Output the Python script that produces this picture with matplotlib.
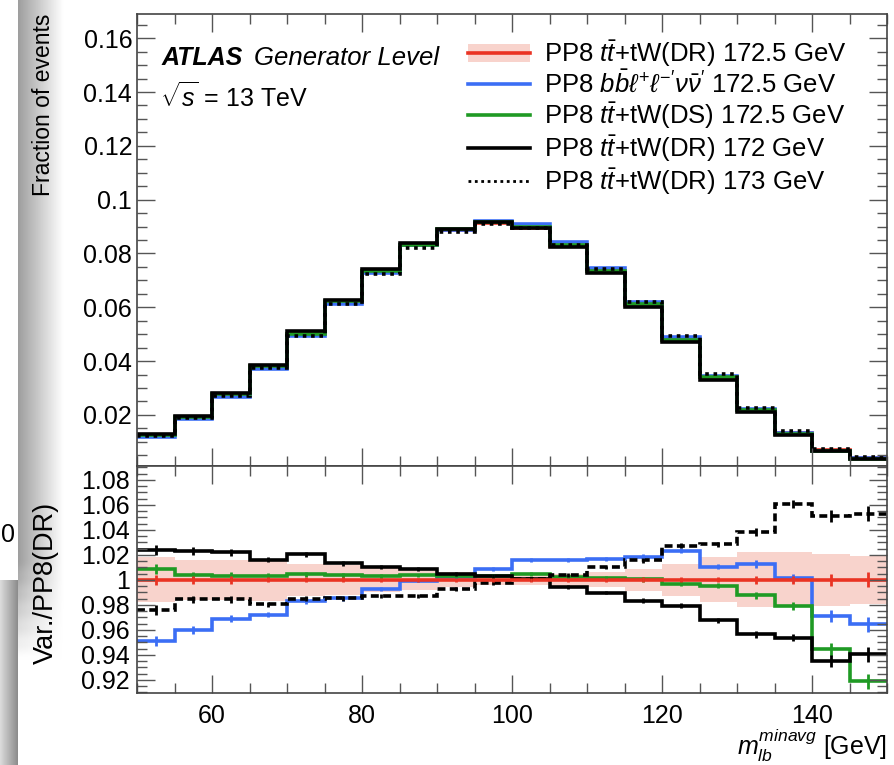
import numpy as np
import matplotlib
matplotlib.use("Agg")
import matplotlib.pyplot as plt
from matplotlib.lines import Line2D
from matplotlib.patches import Patch
from matplotlib.ticker import MultipleLocator

plt.rcParams['font.family'] = ['Liberation Sans', 'DejaVu Sans']
plt.rcParams['mathtext.fontset'] = 'custom'
plt.rcParams['mathtext.rm'] = 'Liberation Sans'
plt.rcParams['mathtext.it'] = 'Liberation Sans:italic'
plt.rcParams['mathtext.bf'] = 'Liberation Sans:bold'

# m_lb^minavg binning, 5 GeV bins
edges = np.arange(50, 155, 5)

# nominal PP8 ttbar+tW(DR) 172.5 GeV, fraction of events
nominal = [0.0125, 0.0193, 0.0275, 0.0380, 0.0500, 0.0620, 0.0734, 0.0830, 0.0887, 0.0913,
           0.0894, 0.0828, 0.0734, 0.0610, 0.0480, 0.0342, 0.0219, 0.0133, 0.0069, 0.0040]

# ratios to nominal
ratio_bb = [0.951, 0.960, 0.969, 0.972, 0.983, 0.9855, 0.993, 0.9995, 1.002, 1.0085,
            1.0157, 1.0157, 1.0165, 1.0184, 1.0232, 1.0104, 1.0125, 1.0013, 0.9712, 0.9645]
ratio_ds = [1.0085, 1.0035, 1.0030, 1.0032, 1.0045, 1.0037, 1.0032, 1.0035, 1.0032, 1.0032,
            1.0045, 1.0019, 1.0013, 1.0005, 0.9970, 0.9952, 0.9877, 0.9792, 0.9445, 0.9190]
ratio_172 = [1.0238, 1.0232, 1.0219, 1.0160, 1.0205, 1.0133, 1.0105, 1.0085, 1.0045, 1.0032,
             1.0005, 0.9944, 0.9899, 0.9832, 0.9792, 0.9677, 0.9565, 0.9539, 0.9352, 0.9405]
ratio_173 = [0.9760, 0.9845, 0.9845, 0.9805, 0.9850, 0.9855, 0.9870, 0.9870, 0.9925, 0.9975,
             1.0010, 1.0040, 1.0099, 1.0157, 1.0272, 1.0285, 1.0384, 1.0605, 1.0512, 1.0528]

# nominal uncertainty band (relative half width) and per-bin stat errors
band = [0.018, 0.016, 0.016, 0.017, 0.013, 0.012, 0.010, 0.008, 0.006, 0.004,
        0.004, 0.005, 0.006, 0.009, 0.013, 0.018, 0.022, 0.022, 0.021, 0.019]
stat = [0.004, 0.003, 0.003, 0.002, 0.002, 0.002, 0.0015, 0.0015, 0.0015, 0.0015,
        0.0015, 0.0015, 0.0015, 0.002, 0.002, 0.002, 0.003, 0.003, 0.005, 0.006]

labels = [r"PP8 $t\bar{t}$+tW(DR) 172.5 GeV",
          r"PP8 $b\bar{b}\ell^{+}\ell^{-\prime}\nu\bar{\nu}^{\prime}$ 172.5 GeV",
          r"PP8 $t\bar{t}$+tW(DS) 172.5 GeV",
          r"PP8 $t\bar{t}$+tW(DR) 172 GeV",
          r"PP8 $t\bar{t}$+tW(DR) 173 GeV"]

red = '#ea3323'
blue = '#3b6ef5'
green = '#1f9a24'
pink = '#f8d3cc'
dot = (0, (1.0, 1.3))
dash = (0, (2.2, 1.2))

W, H = 894, 765
fig = plt.figure(figsize=(W / 100, H / 100), dpi=100)

# screenshot leftovers on the left side
def grad_axes(rect, img):
    a = fig.add_axes(rect, zorder=-5)
    a.imshow(img, aspect='auto', cmap='gray', vmin=0, vmax=1)
    a.axis('off')
    return a

g1 = np.tile(np.linspace(0.86, 0.55, 40), (10, 1))
grad_axes([0, 0, 18 / W, (H - 580) / H], g1)
g2 = np.tile(np.linspace(0.62, 1.0, 60), (40, 1))
fade = np.linspace(0, 1, 40)[:, None]
g2 = g2 + (1 - g2) * np.clip((fade - 0.85) / 0.15, 0, 1)
grad_axes([18 / W, (H - 668) / H, 46 / W, 668 / H], g2)
fig.text(1 / W, 1 - 535 / H, "0", fontsize=18, va='center', ha='left')

x0, x1 = 137 / W, 887 / W
ax = fig.add_axes([x0, 1 - 466 / H, x1 - x0, (466 - 14) / H])
rax = fig.add_axes([x0, 1 - 693 / H, x1 - x0, (693 - 466) / H], sharex=ax)

nom = np.array(nominal)
centers = 0.5 * (edges[1:] + edges[:-1])
bnd = np.array(band)
lw = 2.6

# top panel
ax.stairs(nom * (1 + bnd), edges, baseline=nom * (1 - bnd), fill=True, color=pink, lw=0)
ax.stairs(nom, edges, color=red, lw=lw, baseline=None)
ax.stairs(nom * np.array(ratio_bb), edges, color=blue, lw=lw, baseline=None)
ax.stairs(nom * np.array(ratio_ds), edges, color=green, lw=lw, baseline=None)
ax.stairs(nom * np.array(ratio_173), edges, color='black', lw=lw, ls=dot, baseline=None)
ax.stairs(nom * np.array(ratio_172), edges, color='black', lw=lw, baseline=None)

# ratio panel
rax.stairs(1 + bnd, edges, baseline=1 - bnd, fill=True, color=pink, lw=0)
series = [(ratio_bb, blue, '-'), (ratio_ds, green, '-'), (ratio_172, 'black', '-'),
          (ratio_173, 'black', dash)]
for r, c, ls in series:
    rax.stairs(r, edges, color=c, lw=lw, ls=ls, baseline=None)
    rax.errorbar(centers, r, yerr=stat, fmt='none', ecolor=c, elinewidth=2)
rax.stairs(np.ones(len(nom)), edges, color=red, lw=lw, baseline=None)
rax.errorbar(centers, np.ones(len(nom)), yerr=stat, fmt='none', ecolor=red, elinewidth=2)

ax.set_xlim(50, 150)
ax.set_ylim(0.001, 0.169)
rax.set_ylim(0.9096, 1.091)

for a in (ax, rax):
    a.tick_params(which='both', direction='in', top=True, right=True, labelsize=18,
                  width=1.0, color='#555555')
    a.tick_params(which='major', length=13)
    a.tick_params(which='minor', length=7)
    a.xaxis.set_major_locator(MultipleLocator(20))
    a.xaxis.set_minor_locator(MultipleLocator(5))
    for s in a.spines.values():
        s.set_linewidth(1.2)
        s.set_color('#444444')
ax.tick_params(labelbottom=False)
ax.yaxis.set_minor_locator(MultipleLocator(0.005))
ax.set_yticks([0.02, 0.04, 0.06, 0.08, 0.1, 0.12, 0.14, 0.16])
ax.set_yticklabels(['0.02', '0.04', '0.06', '0.08', '0.1', '0.12', '0.14', '0.16'])
rax.set_yticks([0.92, 0.94, 0.96, 0.98, 1.0, 1.02, 1.04, 1.06, 1.08])
rax.set_yticklabels(['0.92', '0.94', '0.96', '0.98', '1', '1.02', '1.04', '1.06', '1.08'])
rax.yaxis.set_minor_locator(MultipleLocator(0.005))
rax.tick_params(axis='y', labelsize=18, pad=5)
rax.tick_params(axis='x', pad=8)

fig.text(44 / W, 1 - 14 / H, "Fraction of events", rotation=90, fontsize=16.5,
         ha='center', va='top')
fig.text(46 / W, 1 - 583 / H, "Var./PP8(DR)", rotation=90, fontsize=19.5,
         ha='center', va='center')
fig.text(887 / W, 1 - 745 / H, r"$m_{lb}^{minavg}$ [GeV]", fontsize=18, ha='right',
         va='center')

fig.text(162 / W, 1 - 58 / H, "ATLAS", fontsize=18, weight='bold', style='italic',
         va='center')
fig.text(254 / W, 1 - 58 / H, "Generator Level", fontsize=18.5, style='italic', va='center')
fig.text(160 / W, 1 - 97 / H, r"$\sqrt{s}$ = 13 TeV", fontsize=18, va='center')

handles = [(Patch(facecolor=pink, edgecolor='none'), Line2D([], [], color=red, lw=lw)),
           Line2D([], [], color=blue, lw=lw),
           Line2D([], [], color=green, lw=lw),
           Line2D([], [], color='black', lw=lw),
           Line2D([], [], color='black', lw=2, ls=dot)]
ax.legend(handles, labels, loc='upper left', bbox_to_anchor=((468 - 137) / 750, 1 - 24 / 452),
          frameon=False, fontsize=18.5, handlelength=2.4, handletextpad=0.55,
          labelspacing=0.08, borderpad=0, borderaxespad=0)

fig.savefig("out.png", dpi=100)
